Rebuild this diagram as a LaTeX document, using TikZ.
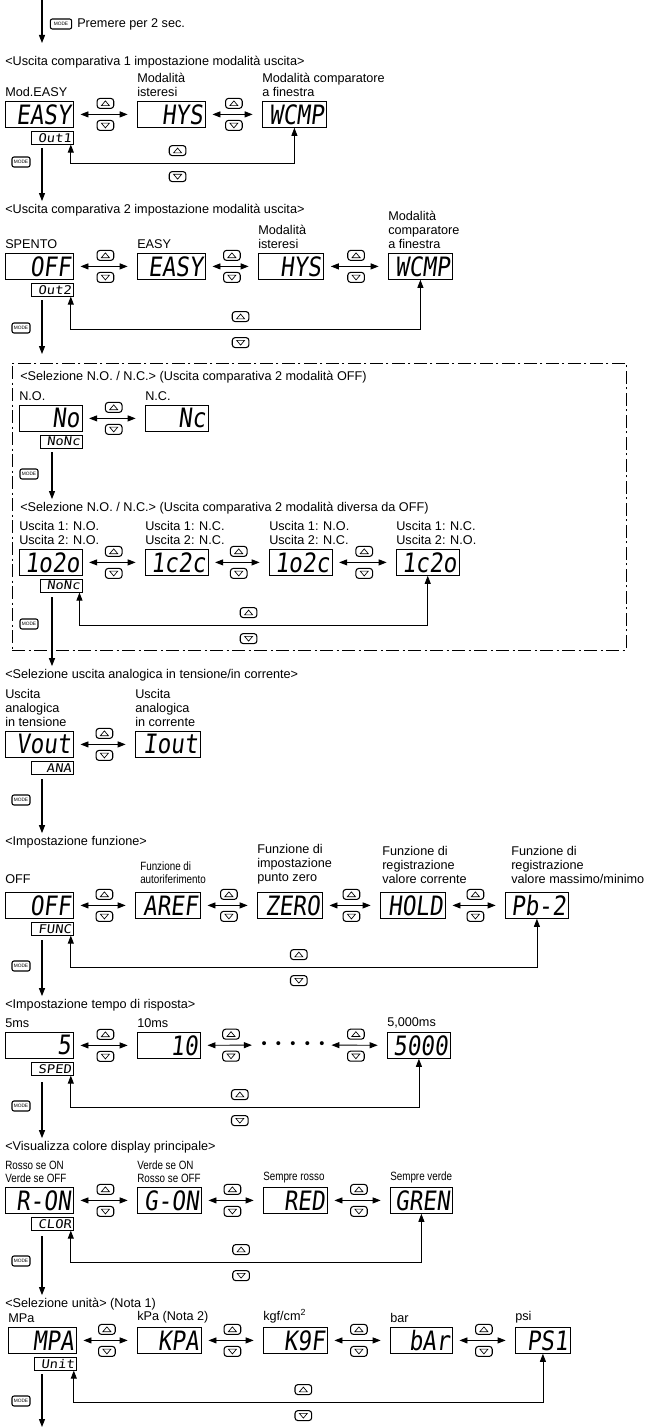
\documentclass[tikz,border=0pt]{standalone}
\usepackage{fontspec}
\setmainfont{Liberation Sans}
\newfontfamily\narrowfont[FakeStretch=0.82]{Liberation Sans}
\newfontfamily\lcdfont[FakeSlant=0.12,FakeStretch=0.85]{DejaVu Sans Mono}
\newfontfamily\sublcdfont[FakeSlant=0.12,FakeStretch=1.15]{DejaVu Sans Mono}
\usetikzlibrary{arrows.meta, positioning, calc, fit}

\begin{document}
\begin{tikzpicture}[
    x=0.75pt, y=-0.75pt,
    >={Triangle[length=6pt, width=4.5pt]},
    every node/.style={font=\fontsize{9.5}{10.5}\selectfont},
    title/.style={anchor=west, inner sep=0pt},
    modelabel/.style={anchor=south west, inner sep=0pt, align=left},
    narrowlabel/.style={modelabel, font=\narrowfont\fontsize{9}{9.8}\selectfont},
    lcd/.style={
      draw, line width=0.6pt, anchor=north west,
      minimum height=19.5pt, text width=44pt, inner xsep=2pt, inner ysep=0pt,
      align=right, font=\lcdfont\fontsize{20}{20}\selectfont
    },
    wide/.style={text width=47pt},
    sublcd/.style={
      draw, line width=0.6pt, anchor=north east,
      minimum height=9.75pt, text width=28.5pt, inner xsep=1.5pt, inner ysep=0pt,
      align=right, font=\sublcdfont\fontsize{9}{9}\selectfont
    },
    keyup/.style={
      draw, line width=0.8pt, rounded corners=2.2pt, inner sep=0pt,
      minimum width=12.5pt, minimum height=7.5pt,
      path picture={\draw[line width=0.5pt, sharp corners]
        ($(path picture bounding box.center)+(-3pt,-1.7pt)$) -- ++(6pt,0pt)
        -- ++(-3pt,3.6pt) -- cycle;}
    },
    keydown/.style={
      draw, line width=0.8pt, rounded corners=2.2pt, inner sep=0pt,
      minimum width=12.5pt, minimum height=7.5pt,
      path picture={\draw[line width=0.5pt, sharp corners]
        ($(path picture bounding box.center)+(-3pt,1.7pt)$) -- ++(6pt,0pt)
        -- ++(-3pt,-3.6pt) -- cycle;}
    },
    modekey/.style={
      draw, line width=0.8pt, rounded corners=1.5pt, inner sep=0pt,
      minimum width=13.5pt, minimum height=7.5pt,
      font=\fontsize{3.6}{3.6}\selectfont
    },
    toggle/.style={<->, line width=0.7pt, shorten <=5pt, shorten >=7pt},
    loopback/.style={<->, line width=0.6pt},
    flow/.style={->, line width=0.8pt, shorten >=2pt},
    groupframe/.style={draw, line width=0.6pt, inner sep=0pt,
      dash pattern=on 10pt off 2.5pt on 1.5pt off 2.5pt}
  ]
  \useasboundingbox (0,0) rectangle (651,1427);

  % ===== entry =====
  \coordinate (entry) at (42,0);
  \coordinate (entryend) at (42,43);
  \draw[flow, shorten >=0pt] (entry) -- (entryend);
  \node[modekey, minimum width=16pt] (mode0) at (61,24) {MODE};
  \node[anchor=west, inner sep=0pt] (hold2s) at (77,24) {Premere per 2 sec.};

  % ===== output 1 mode =====
  \node[title] (t1) at (5,62) {<Uscita comparativa 1 impostazione modalità uscita>};
  \node[lcd, wide] (easy1) at (5,101) {EASY};
  \node[lcd, wide] (hys1) at (137,101) {HYS};
  \node[lcd] (wcmp1) at (262,101) {WCMP};
  \node[sublcd] (out1) at ($(easy1.south east)+(0,3)$) {Out1};
  \node[modelabel] (l-easy1) at ($(easy1.north west)+(0,-4)$) {Mod.EASY};
  \node[modelabel] (l-hys1) at ($(hys1.north west)+(0,-4)$) {Modalità\\isteresi};
  \node[modelabel] (l-wcmp1) at ($(wcmp1.north west)+(0,-4)$) {Modalità comparatore\\a finestra};
  \foreach \a/\b in {easy1/hys1, hys1/wcmp1} {
    \draw[toggle] (\a) -- (\b);
    \node[keyup] (up-\a) at ($(\a.east)!0.5!(\b.west)+(0,-11)$) {};
    \node[keydown] (dn-\a) at ($(\a.east)!0.5!(\b.west)+(0,11)$) {};
  }
  \draw[loopback] ($(out1.south east)+(-3,0)$) -- ++(0,19) coordinate (lp1) -| (wcmp1.south);
  \coordinate (lp1r) at (wcmp1.south |- lp1);
  \node[keyup] (up-lp1) at ($(lp1)!0.5!(lp1r)+(-5,-13)$) {};
  \node[keydown] (dn-lp1) at ($(lp1)!0.5!(lp1r)+(-5,13)$) {};

  % ===== output 2 mode =====
  \node[title] (t2) at (5,210) {<Uscita comparativa 2 impostazione modalità uscita>};
  \coordinate (f1) at (42,148);
  \draw[flow] (f1) -- (f1 |- t2.north);
  \node[modekey] (mode1) at (21,162) {MODE};
  \node[lcd, wide] (off2) at (5,253) {OFF};
  \node[lcd, wide] (easy2) at (137,253) {EASY};
  \node[lcd, text width=45pt] (hys2) at (258,253) {HYS};
  \node[lcd] (wcmp2) at (388,253) {WCMP};
  \node[sublcd] (out2) at ($(off2.south east)+(0,3)$) {Out2};
  \node[modelabel] (l-off2) at ($(off2.north west)+(0,-4)$) {SPENTO};
  \node[modelabel] (l-easy2) at ($(easy2.north west)+(0,-4)$) {EASY};
  \node[modelabel] (l-hys2) at ($(hys2.north west)+(0,-4)$) {Modalità\\isteresi};
  \node[modelabel] (l-wcmp2) at ($(wcmp2.north west)+(0,-4)$) {Modalità\\comparatore\\a finestra};
  \foreach \a/\b in {off2/easy2, easy2/hys2, hys2/wcmp2} {
    \draw[toggle] (\a) -- (\b);
    \node[keyup] (up-\a) at ($(\a.east)!0.5!(\b.west)+(0,-11)$) {};
    \node[keydown] (dn-\a) at ($(\a.east)!0.5!(\b.west)+(0,11)$) {};
  }
  \draw[loopback] ($(out2.south east)+(-3,0)$) -- ++(0,33) coordinate (lp2) -| (wcmp2.south);
  \coordinate (lp2r) at (wcmp2.south |- lp2);
  \node[keyup] (up-lp2) at ($(lp2)!0.5!(lp2r)+(-5,-13)$) {};
  \node[keydown] (dn-lp2) at ($(lp2)!0.5!(lp2r)+(-5,13)$) {};
  \coordinate (f2) at (42,300);
  \coordinate (f2end) at (42,354);
  \draw[flow, shorten >=0pt] (f2) -- (f2end);
  \node[modekey] (mode2) at (21,328) {MODE};

  % ===== N.O. / N.C. group =====
  \coordinate (grp-nw) at (12,363);
  \coordinate (grp-se) at (626,650);
  \node[groupframe, fit=(grp-nw)(grp-se)] (nocgroup) {};

  \node[title] (t3) at (20,377) {<Selezione N.O. / N.C.> (Uscita comparativa 2 modalità OFF)};
  \node[lcd, text width=43pt] (no1) at (19,405) {No};
  \node[lcd, text width=43pt] (nc1) at (145,405) {Nc};
  \node[sublcd] (nonc1) at ($(no1.south east)+(0,3)$) {NoNc};
  \node[modelabel] (l-no1) at ($(no1.north west)+(0,-4)$) {N.O.};
  \node[modelabel] (l-nc1) at ($(nc1.north west)+(0,-4)$) {N.C.};
  \foreach \a/\b in {no1/nc1} {
    \draw[toggle] (\a) -- (\b);
    \node[keyup] (up-\a) at ($(\a.east)!0.5!(\b.west)+(0,-11)$) {};
    \node[keydown] (dn-\a) at ($(\a.east)!0.5!(\b.west)+(0,11)$) {};
  }

  \node[title] (t4) at (20,508) {<Selezione N.O. / N.C.> (Uscita comparativa 2 modalità diversa da OFF)};
  \coordinate (f3) at (52,452);
  \draw[flow] (f3) -- (f3 |- t4.north);
  \node[modekey] (mode3) at (29,474) {MODE};
  \node[lcd, text width=43pt] (oo) at (19,549) {1o2o};
  \node[lcd, text width=43pt] (cc) at (145,549) {1c2c};
  \node[lcd, text width=43pt] (oc) at (269,549) {1o2c};
  \node[lcd, text width=43pt] (co) at (396,549) {1c2o};
  \node[sublcd] (nonc2) at ($(oo.south east)+(0,3)$) {NoNc};
  \node[modelabel] (l-oo) at ($(oo.north west)+(0,-4)$) {Uscita 1: N.O.\\Uscita 2: N.O.};
  \node[modelabel] (l-cc) at ($(cc.north west)+(0,-4)$) {Uscita 1: N.C.\\Uscita 2: N.C.};
  \node[modelabel] (l-oc) at ($(oc.north west)+(0,-4)$) {Uscita 1: N.O.\\Uscita 2: N.C.};
  \node[modelabel] (l-co) at ($(co.north west)+(0,-4)$) {Uscita 1: N.C.\\Uscita 2: N.O.};
  \foreach \a/\b in {oo/cc, cc/oc, oc/co} {
    \draw[toggle] (\a) -- (\b);
    \node[keyup] (up-\a) at ($(\a.east)!0.5!(\b.west)+(0,-11)$) {};
    \node[keydown] (dn-\a) at ($(\a.east)!0.5!(\b.west)+(0,11)$) {};
  }
  \draw[loopback] ($(nonc2.south east)+(-3,0)$) -- ++(0,33) coordinate (lp4) -| (co.south);
  \coordinate (lp4r) at (co.south |- lp4);
  \node[keyup] (up-lp4) at ($(lp4)!0.5!(lp4r)+(-5,-13)$) {};
  \node[keydown] (dn-lp4) at ($(lp4)!0.5!(lp4r)+(-5,13)$) {};

  % ===== analog output =====
  \node[title] (t5) at (5,675) {<Selezione uscita analogica in tensione/in corrente>};
  \coordinate (f4) at (52,597);
  \draw[flow] (f4) -- (f4 |- t5.north);
  \node[modekey] (mode4) at (29,624) {MODE};
  \node[lcd, wide] (vout) at (5,731) {Vout};
  \node[lcd, text width=44.75pt] (iout) at (135,731) {Iout};
  \node[sublcd] (ana) at ($(vout.south east)+(0,3)$) {ANA};
  \node[modelabel] (l-vout) at ($(vout.north west)+(0,-4)$) {Uscita\\analogica\\in tensione};
  \node[modelabel] (l-iout) at ($(iout.north west)+(0,-4)$) {Uscita\\analogica\\in corrente};
  \foreach \a/\b in {vout/iout} {
    \draw[toggle] (\a) -- (\b);
    \node[keyup] (up-\a) at ($(\a.east)!0.5!(\b.west)+(0,-11)$) {};
    \node[keydown] (dn-\a) at ($(\a.east)!0.5!(\b.west)+(0,11)$) {};
  }

  % ===== function =====
  \node[title] (t6) at (5,842) {<Impostazione funzione>};
  \coordinate (f5) at (42,779);
  \draw[flow] (f5) -- (f5 |- t6.north);
  \node[modekey] (mode5) at (21,800) {MODE};
  \node[lcd, wide] (off6) at (5,892) {OFF};
  \node[lcd, text width=44.75pt] (aref) at (135,892) {AREF};
  \node[lcd, text width=44.75pt] (zero) at (257,892) {ZERO};
  \node[lcd, text width=44.75pt] (hold) at (380,892) {HOLD};
  \node[lcd, text width=43.25pt] (pb2) at (505,892) {Pb-2};
  \node[sublcd] (func) at ($(off6.south east)+(0,3)$) {FUNC};
  \node[modelabel] (l-off6) at ($(off6.north west)+(0,-8)$) {OFF};
  \node[narrowlabel] (l-aref) at ($(aref.north west)+(5,-8)$) {Funzione di\\autoriferimento};
  \node[modelabel] (l-zero) at ($(zero.north west)+(0,-8)$) {Funzione di\\impostazione\\punto zero};
  \node[modelabel] (l-hold) at ($(hold.north west)+(2,-8)$) {Funzione di\\registrazione\\valore corrente};
  \node[modelabel] (l-pb2) at ($(pb2.north west)+(6,-8)$) {Funzione di\\registrazione\\valore massimo/minimo};
  \foreach \a/\b in {off6/aref, aref/zero, zero/hold, hold/pb2} {
    \draw[toggle] (\a) -- (\b);
    \node[keyup] (up-\a) at ($(\a.east)!0.5!(\b.west)+(0,-11)$) {};
    \node[keydown] (dn-\a) at ($(\a.east)!0.5!(\b.west)+(0,11)$) {};
  }
  \draw[loopback] ($(func.south east)+(-3,0)$) -- ++(0,32) coordinate (lp6) -| (pb2.south);
  \coordinate (lp6r) at (pb2.south |- lp6);
  \node[keyup] (up-lp6) at ($(lp6)!0.5!(lp6r)+(-5,-13)$) {};
  \node[keydown] (dn-lp6) at ($(lp6)!0.5!(lp6r)+(-5,13)$) {};

  % ===== response time =====
  \node[title] (t7) at (5,1005) {<Impostazione tempo di risposta>};
  \coordinate (f6) at (42,940);
  \draw[flow] (f6) -- (f6 |- t7.north);
  \node[modekey] (mode6) at (21,966) {MODE};
  \node[lcd, wide] (ms5) at (5,1032) {5};
  \node[lcd, text width=43.25pt] (ms10) at (137,1032) {10};
  \node[inner sep=0pt, font=\fontsize{11}{11}\selectfont] (dots) at (293,1045)
    {•\hspace{7pt}•\hspace{7pt}•\hspace{7pt}•\hspace{7pt}•};
  \node[lcd, text width=43.25pt] (ms5000) at (387,1032) {5000};
  \node[sublcd] (sped) at ($(ms5.south east)+(0,3)$) {SPED};
  \node[modelabel] (l-ms5) at ($(ms5.north west)+(0,-4)$) {5ms};
  \node[modelabel] (l-ms10) at ($(ms10.north west)+(0,-4)$) {10ms};
  \node[modelabel] (l-ms5000) at ($(ms5000.north west)+(0,-4)$) {5,000ms};
  \foreach \a/\b in {ms5/ms10, ms10/dots, dots/ms5000} {
    \draw[toggle] (\a) -- (\b);
    \node[keyup] (up-\a) at ($(\a.east)!0.5!(\b.west)+(0,-11)$) {};
    \node[keydown] (dn-\a) at ($(\a.east)!0.5!(\b.west)+(0,11)$) {};
  }
  \draw[loopback] ($(sped.south east)+(-3,0)$) -- ++(0,32) coordinate (lp7) -| (ms5000.south);
  \coordinate (lp7r) at (ms5000.south |- lp7);
  \node[keyup] (up-lp7) at ($(lp7)!0.5!(lp7r)+(-5,-13)$) {};
  \node[keydown] (dn-lp7) at ($(lp7)!0.5!(lp7r)+(-5,13)$) {};

  % ===== display colour =====
  \node[title] (t8) at (5,1147) {<Visualizza colore display principale>};
  \coordinate (f7) at (42,1082);
  \draw[flow] (f7) -- (f7 |- t8.north);
  \node[modekey] (mode7) at (21,1106) {MODE};
  \node[lcd, wide] (ron) at (5,1187) {R-ON};
  \node[lcd] (gon) at (137,1187) {G-ON};
  \node[lcd] (sred) at (263,1187) {RED};
  \node[lcd, text width=42.5pt] (sgreen) at (390,1187) {GREN};
  \node[sublcd] (clor) at ($(ron.south east)+(0,3)$) {CLOR};
  \node[narrowlabel] (l-ron) at ($(ron.north west)+(0,-4)$) {Rosso se ON\\Verde se OFF};
  \node[narrowlabel] (l-gon) at ($(gon.north west)+(0,-4)$) {Verde se ON\\Rosso se OFF};
  \node[narrowlabel] (l-sred) at ($(sred.north west)+(0,-4)$) {Sempre rosso};
  \node[narrowlabel] (l-sgreen) at ($(sgreen.north west)+(0,-4)$) {Sempre verde};
  \foreach \a/\b in {ron/gon, gon/sred, sred/sgreen} {
    \draw[toggle] (\a) -- (\b);
    \node[keyup] (up-\a) at ($(\a.east)!0.5!(\b.west)+(0,-11)$) {};
    \node[keydown] (dn-\a) at ($(\a.east)!0.5!(\b.west)+(0,11)$) {};
  }
  \draw[loopback] ($(clor.south east)+(-3,0)$) -- ++(0,32) coordinate (lp8) -| (sgreen.south);
  \coordinate (lp8r) at (sgreen.south |- lp8);
  \node[keyup] (up-lp8) at ($(lp8)!0.5!(lp8r)+(-5,-13)$) {};
  \node[keydown] (dn-lp8) at ($(lp8)!0.5!(lp8r)+(-5,13)$) {};

  % ===== units =====
  \node[title] (t9) at (5,1304) {<Selezione unità> (Nota 1)};
  \coordinate (f8) at (42,1236);
  \draw[flow] (f8) -- (f8 |- t9.north);
  \node[modekey] (mode8) at (21,1261) {MODE};
  \node[lcd, wide] (mpa) at (8,1327) {MPA};
  \node[lcd] (kpa) at (137,1327) {KPA};
  \node[lcd] (kgf) at (263,1327) {K9F};
  \node[lcd, text width=42.5pt] (bar) at (390,1327) {bAr};
  \node[lcd, text width=37.25pt] (psi) at (515,1327) {PS1};
  \node[sublcd] (unit) at ($(mpa.south east)+(0,3)$) {Unit};
  \node[modelabel] (l-mpa) at ($(mpa.north west)+(0,-4)$) {MPa};
  \node[modelabel] (l-kpa) at ($(kpa.north west)+(0,-4)$) {kPa (Nota 2)};
  \node[modelabel] (l-kgf) at ($(kgf.north west)+(0,-4)$) {kgf/cm\textsuperscript{2}};
  \node[modelabel] (l-bar) at ($(bar.north west)+(0,-4)$) {bar};
  \node[modelabel] (l-psi) at ($(psi.north west)+(0,-4)$) {psi};
  \foreach \a/\b in {mpa/kpa, kpa/kgf, kgf/bar, bar/psi} {
    \draw[toggle] (\a) -- (\b);
    \node[keyup] (up-\a) at ($(\a.east)!0.5!(\b.west)+(0,-11)$) {};
    \node[keydown] (dn-\a) at ($(\a.east)!0.5!(\b.west)+(0,11)$) {};
  }
  \draw[loopback] ($(unit.south east)+(-3,0)$) -- ++(0,32) coordinate (lp9) -| (psi.south);
  \coordinate (lp9r) at (psi.south |- lp9);
  \node[keyup] (up-lp9) at ($(lp9)!0.5!(lp9r)+(-5,-13)$) {};
  \node[keydown] (dn-lp9) at ($(lp9)!0.5!(lp9r)+(-5,13)$) {};
  \coordinate (f9) at (42,1374);
  \coordinate (exit) at (42,1427);
  \draw[flow, shorten >=0pt] (f9) -- (exit);
  \node[modekey] (mode9) at (21,1401) {MODE};

\end{tikzpicture}
\end{document}
